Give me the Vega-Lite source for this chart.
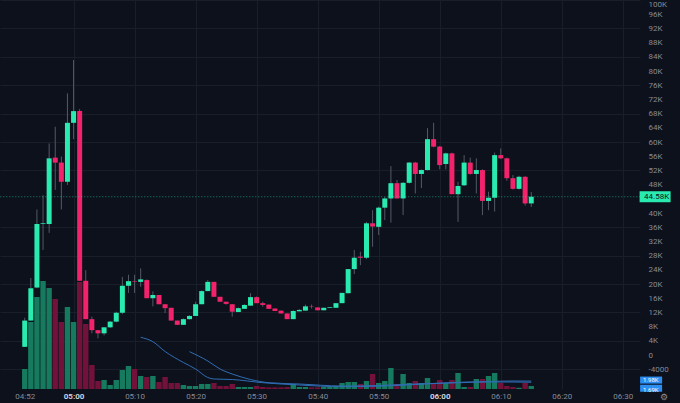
{
  "$schema": "https://vega.github.io/schema/vega-lite/v6.json",
  "width": 640,
  "height": 389,
  "autosize": {"type": "none"},
  "padding": {"left": 0, "top": 0, "right": 40, "bottom": 14},
  "background": "#0d111c",
  "config": {"view": {"stroke": null}, "font": "Roboto", "axisY": {"labelOverlap": false}},
  "data": {
    "format": {"parse": {"t": "date:'%H:%M'"}},
    "values": [
      {"t": "04:52", "o": 2300, "h": 10500, "l": 2300, "c": 9700, "v": 5000},
      {"t": "04:53", "o": 9700, "h": 21700, "l": 9700, "c": 18800, "v": 16750},
      {"t": "04:54", "o": 19000, "h": 41000, "l": 18800, "c": 36900, "v": 23000},
      {"t": "04:55", "o": 36900, "h": 45000, "l": 29600, "c": 37100, "v": 27000},
      {"t": "04:56", "o": 36900, "h": 59600, "l": 34400, "c": 55400, "v": 25250},
      {"t": "04:57", "o": 55600, "h": 64300, "l": 46500, "c": 54200, "v": 22500},
      {"t": "04:58", "o": 54200, "h": 55900, "l": 41000, "c": 48800, "v": 16750},
      {"t": "04:59", "o": 48800, "h": 73700, "l": 47900, "c": 65400, "v": 20500},
      {"t": "05:00", "o": 65400, "h": 83100, "l": 60800, "c": 68700, "v": 16750},
      {"t": "05:01", "o": 68700, "h": 69300, "l": 20900, "c": 20900, "v": 26750},
      {"t": "05:02", "o": 20900, "h": 23900, "l": 10100, "c": 10100, "v": 16250},
      {"t": "05:03", "o": 10100, "h": 10800, "l": 6100, "c": 7000, "v": 6000},
      {"t": "05:04", "o": 7000, "h": 7000, "l": 4700, "c": 6100, "v": 2000},
      {"t": "05:05", "o": 6100, "h": 7800, "l": 5500, "c": 7800, "v": 2250},
      {"t": "05:06", "o": 7800, "h": 9600, "l": 7600, "c": 9400, "v": 1000},
      {"t": "05:07", "o": 9400, "h": 12200, "l": 9200, "c": 11900, "v": 2250},
      {"t": "05:08", "o": 11900, "h": 22000, "l": 11500, "c": 19500, "v": 4750},
      {"t": "05:09", "o": 19500, "h": 22600, "l": 17500, "c": 20800, "v": 5750},
      {"t": "05:10", "o": 20850, "h": 22600, "l": 17500, "c": 20700, "v": 5000},
      {"t": "05:11", "o": 20600, "h": 24400, "l": 19200, "c": 21300, "v": 3250},
      {"t": "05:12", "o": 21100, "h": 21300, "l": 16000, "c": 16000, "v": 3000},
      {"t": "05:13", "o": 16000, "h": 17900, "l": 13700, "c": 16900, "v": 3250},
      {"t": "05:14", "o": 16900, "h": 16900, "l": 14300, "c": 14300, "v": 1750},
      {"t": "05:15", "o": 14300, "h": 14300, "l": 11800, "c": 13200, "v": 3000},
      {"t": "05:16", "o": 13300, "h": 13300, "l": 9700, "c": 9700, "v": 1500},
      {"t": "05:17", "o": 9700, "h": 9700, "l": 8500, "c": 8500, "v": 1500},
      {"t": "05:18", "o": 8500, "h": 10300, "l": 8500, "c": 10100, "v": 1000},
      {"t": "05:19", "o": 10100, "h": 11200, "l": 10000, "c": 11000, "v": 750},
      {"t": "05:20", "o": 11000, "h": 15000, "l": 11000, "c": 14300, "v": 750},
      {"t": "05:21", "o": 14300, "h": 18200, "l": 14300, "c": 18000, "v": 1250},
      {"t": "05:22", "o": 18000, "h": 21100, "l": 18000, "c": 20600, "v": 1250},
      {"t": "05:23", "o": 20600, "h": 20600, "l": 16400, "c": 16400, "v": 1500},
      {"t": "05:24", "o": 16400, "h": 16400, "l": 15000, "c": 15000, "v": 750},
      {"t": "05:25", "o": 15000, "h": 15000, "l": 14200, "c": 14400, "v": 750},
      {"t": "05:26", "o": 14300, "h": 14300, "l": 10800, "c": 12200, "v": 1250},
      {"t": "05:27", "o": 12100, "h": 13400, "l": 12100, "c": 13200, "v": 500},
      {"t": "05:28", "o": 13000, "h": 14300, "l": 13000, "c": 14100, "v": 500},
      {"t": "05:29", "o": 13900, "h": 17400, "l": 13900, "c": 16300, "v": 500},
      {"t": "05:30", "o": 16300, "h": 16500, "l": 14600, "c": 14600, "v": 750},
      {"t": "05:31", "o": 14600, "h": 15000, "l": 13600, "c": 14100, "v": 500},
      {"t": "05:32", "o": 14200, "h": 14200, "l": 13000, "c": 13000, "v": 400},
      {"t": "05:33", "o": 13100, "h": 13100, "l": 12400, "c": 12400, "v": 400},
      {"t": "05:34", "o": 12500, "h": 12500, "l": 11700, "c": 11700, "v": 400},
      {"t": "05:35", "o": 11700, "h": 11700, "l": 10100, "c": 10100, "v": 500},
      {"t": "05:36", "o": 10100, "h": 12600, "l": 10100, "c": 12400, "v": 1250},
      {"t": "05:37", "o": 12300, "h": 12900, "l": 12300, "c": 12700, "v": 500},
      {"t": "05:38", "o": 12500, "h": 14200, "l": 12500, "c": 13700, "v": 500},
      {"t": "05:39", "o": 13650, "h": 14200, "l": 13100, "c": 13550, "v": 400},
      {"t": "05:40", "o": 13400, "h": 13400, "l": 12600, "c": 12600, "v": 400},
      {"t": "05:41", "o": 12600, "h": 13300, "l": 12600, "c": 13300, "v": 500},
      {"t": "05:42", "o": 13300, "h": 13500, "l": 13300, "c": 13500, "v": 500},
      {"t": "05:43", "o": 13300, "h": 14600, "l": 13300, "c": 14600, "v": 750},
      {"t": "05:44", "o": 14600, "h": 17500, "l": 14600, "c": 17500, "v": 1500},
      {"t": "05:45", "o": 17400, "h": 24200, "l": 17400, "c": 24200, "v": 1750},
      {"t": "05:46", "o": 24200, "h": 29600, "l": 22800, "c": 27400, "v": 1750},
      {"t": "05:47", "o": 27700, "h": 29100, "l": 25300, "c": 27400, "v": 1250},
      {"t": "05:48", "o": 27400, "h": 37500, "l": 27000, "c": 37100, "v": 2000},
      {"t": "05:49", "o": 37100, "h": 40800, "l": 30500, "c": 36200, "v": 3750},
      {"t": "05:50", "o": 36100, "h": 41800, "l": 33800, "c": 41500, "v": 1500},
      {"t": "05:51", "o": 41500, "h": 44500, "l": 38000, "c": 44100, "v": 2000},
      {"t": "05:52", "o": 44100, "h": 53200, "l": 37300, "c": 48400, "v": 5250},
      {"t": "05:53", "o": 48400, "h": 49300, "l": 44100, "c": 44100, "v": 1250},
      {"t": "05:54", "o": 44100, "h": 48700, "l": 39400, "c": 48500, "v": 3750},
      {"t": "05:55", "o": 48500, "h": 54400, "l": 48300, "c": 54200, "v": 1500},
      {"t": "05:56", "o": 54200, "h": 54400, "l": 45500, "c": 51000, "v": 2000},
      {"t": "05:57", "o": 51000, "h": 52300, "l": 47000, "c": 52100, "v": 1500},
      {"t": "05:58", "o": 52100, "h": 63900, "l": 52000, "c": 60800, "v": 2750},
      {"t": "05:59", "o": 60800, "h": 65400, "l": 58500, "c": 58700, "v": 1500},
      {"t": "06:00", "o": 58700, "h": 58900, "l": 52300, "c": 53500, "v": 2250},
      {"t": "06:01", "o": 53800, "h": 57000, "l": 52300, "c": 56800, "v": 1500},
      {"t": "06:02", "o": 56800, "h": 57000, "l": 45300, "c": 45300, "v": 2250},
      {"t": "06:03", "o": 45300, "h": 48800, "l": 37500, "c": 47600, "v": 4000},
      {"t": "06:04", "o": 47800, "h": 56300, "l": 47600, "c": 54200, "v": 500},
      {"t": "06:05", "o": 54200, "h": 55600, "l": 50800, "c": 51000, "v": 500},
      {"t": "06:06", "o": 51000, "h": 55400, "l": 45500, "c": 52100, "v": 2500},
      {"t": "06:07", "o": 52100, "h": 52300, "l": 39400, "c": 43400, "v": 2500},
      {"t": "06:08", "o": 43400, "h": 46000, "l": 40800, "c": 44300, "v": 3250},
      {"t": "06:09", "o": 44300, "h": 57000, "l": 40400, "c": 56300, "v": 4000},
      {"t": "06:10", "o": 56300, "h": 58200, "l": 55200, "c": 55400, "v": 1500},
      {"t": "06:11", "o": 55400, "h": 55600, "l": 49100, "c": 49800, "v": 750},
      {"t": "06:12", "o": 49800, "h": 50700, "l": 46600, "c": 46800, "v": 500},
      {"t": "06:13", "o": 46800, "h": 50500, "l": 46600, "c": 50200, "v": 300},
      {"t": "06:14", "o": 50200, "h": 50400, "l": 42100, "c": 42700, "v": 1500},
      {"t": "06:15", "o": 42700, "h": 45900, "l": 41700, "c": 44580, "v": 750}
    ]
  },
  "encoding": {
    "x": {
      "field": "t",
      "type": "temporal",
      "title": null,
      "scale": {
        "nice": false,
        "domain": [
          {"year": 1900, "month": 1, "date": 1, "hours": 4, "minutes": 48, "seconds": 46},
          {"year": 1900, "month": 1, "date": 1, "hours": 6, "minutes": 32}
        ]
      },
      "axis": {
        "values": [
          {"year": 1900, "month": 1, "date": 1, "hours": 4, "minutes": 52},
          {"year": 1900, "month": 1, "date": 1, "hours": 5, "minutes": 0},
          {"year": 1900, "month": 1, "date": 1, "hours": 5, "minutes": 10},
          {"year": 1900, "month": 1, "date": 1, "hours": 5, "minutes": 20},
          {"year": 1900, "month": 1, "date": 1, "hours": 5, "minutes": 30},
          {"year": 1900, "month": 1, "date": 1, "hours": 5, "minutes": 40},
          {"year": 1900, "month": 1, "date": 1, "hours": 5, "minutes": 50},
          {"year": 1900, "month": 1, "date": 1, "hours": 6, "minutes": 0},
          {"year": 1900, "month": 1, "date": 1, "hours": 6, "minutes": 10},
          {"year": 1900, "month": 1, "date": 1, "hours": 6, "minutes": 20},
          {"year": 1900, "month": 1, "date": 1, "hours": 6, "minutes": 30}
        ],
        "tickCount": 30,
        "format": "%H:%M",
        "labelFontSize": 8,
        "labelPadding": 3,
        "labelColor": {"condition": {"test": "minutes(datum.value) === 0", "value": "#d1d4dc"}, "value": "#868a96"},
        "labelFontWeight": {"condition": {"test": "minutes(datum.value) === 0", "value": "bold"}, "value": "normal"},
        "labelOverlap": false,
        "labelFlush": false,
        "ticks": false,
        "domain": false,
        "grid": true,
        "gridColor": "#191e2b",
        "gridOpacity": {"condition": {"test": "minutes(datum.value) % 10 === 0", "value": 1}, "value": 0}
      }
    }
  },
  "layer": [
    {
      "layer": [
        {
          "mark": {"type": "bar", "size": 5.4},
          "encoding": {
            "y": {"field": "v", "type": "quantitative", "title": null, "axis": null, "scale": {"domain": [0, 97250], "nice": false, "zero": false}},
            "color": {"condition": {"test": "datum.c >= datum.o", "value": "#167a5f"}, "value": "#72123b"}
          }
        },
        {
          "data": {
            "format": {"parse": {"t": "date:'%H:%M'"}},
            "values": [
              {"t": "05:11", "s": "a", "v": 12925},
              {"t": "05:13", "s": "a", "v": 11825},
              {"t": "05:15", "s": "a", "v": 9375},
              {"t": "05:18", "s": "a", "v": 6625},
              {"t": "05:20", "s": "a", "v": 5000},
              {"t": "05:22", "s": "a", "v": 2875},
              {"t": "05:23", "s": "a", "v": 2500},
              {"t": "05:26", "s": "a", "v": 2375},
              {"t": "05:31", "s": "a", "v": 1575},
              {"t": "05:37", "s": "a", "v": 1000},
              {"t": "05:44", "s": "a", "v": 575},
              {"t": "05:50", "s": "a", "v": 700},
              {"t": "05:56", "s": "a", "v": 1125},
              {"t": "06:02", "s": "a", "v": 1625},
              {"t": "06:08", "s": "a", "v": 1875},
              {"t": "06:12", "s": "a", "v": 2000},
              {"t": "06:15", "s": "a", "v": 1980},
              {"t": "05:19", "s": "b", "v": 9325},
              {"t": "05:22", "s": "b", "v": 7000},
              {"t": "05:24", "s": "b", "v": 5000},
              {"t": "05:26", "s": "b", "v": 3750},
              {"t": "05:29", "s": "b", "v": 2375},
              {"t": "05:32", "s": "b", "v": 1575},
              {"t": "05:37", "s": "b", "v": 1250},
              {"t": "05:44", "s": "b", "v": 750},
              {"t": "05:50", "s": "b", "v": 875},
              {"t": "05:56", "s": "b", "v": 1250},
              {"t": "06:02", "s": "b", "v": 1500},
              {"t": "06:08", "s": "b", "v": 1750},
              {"t": "06:12", "s": "b", "v": 1750},
              {"t": "06:15", "s": "b", "v": 1690}
            ]
          },
          "mark": {"type": "line", "color": "#2f6db5", "strokeWidth": 1, "interpolate": "monotone"},
          "encoding": {
            "y": {"field": "v", "type": "quantitative", "title": null},
            "detail": {"field": "s"}
          }
        },
        {
          "data": {"format": {"parse": {"t": "date:'%H:%M'"}}, "values": [{"t": "06:33", "v": 1690, "label": "1.69K"}]},
          "layer": [
            {
              "mark": {"type": "point", "shape": "M-1,-0.32L1,-0.32L1,0.32L-1,0.32Z", "size": 484, "filled": true, "opacity": 1, "color": "#2b8ef0", "xOffset": 10, "yOffset": 6},
              "encoding": {"y": {"field": "v", "type": "quantitative", "title": null}}
            },
            {
              "mark": {"type": "text", "align": "left", "baseline": "middle", "dx": 2, "yOffset": 7.5, "fontSize": 6, "color": "#ffffff"},
              "encoding": {"y": {"field": "v", "type": "quantitative", "title": null}, "text": {"field": "label"}}
            }
          ]
        },
        {
          "data": {"format": {"parse": {"t": "date:'%H:%M'"}}, "values": [{"t": "06:33", "v": 1980, "label": "1.98K"}]},
          "layer": [
            {
              "mark": {"type": "point", "shape": "M-1,-0.32L1,-0.32L1,0.32L-1,0.32Z", "size": 484, "filled": true, "opacity": 1, "color": "#2b8ef0", "xOffset": 10, "yOffset": -1},
              "encoding": {"y": {"field": "v", "type": "quantitative", "title": null}}
            },
            {
              "mark": {"type": "text", "align": "left", "baseline": "middle", "dx": 2, "yOffset": -1.5, "fontSize": 6, "color": "#ffffff"},
              "encoding": {"y": {"field": "v", "type": "quantitative", "title": null}, "text": {"field": "label"}}
            }
          ]
        },
        {
          "data": {"format": {"parse": {"t": "date:'%H:%M'"}}, "values": [{"t": "06:36", "v": -2000, "label": "⚙"}]},
          "mark": {"type": "text", "align": "left", "baseline": "middle", "dx": 1, "fontSize": 9, "color": "#8a8e99"},
          "encoding": {"y": {"field": "v", "type": "quantitative", "title": null}, "text": {"field": "label"}}
        }
      ]
    },
    {
      "layer": [
        {
          "mark": {"type": "rule", "color": "#545968", "strokeWidth": 1},
          "encoding": {
            "y": {
              "field": "l",
              "type": "quantitative",
              "title": null,
              "scale": {"domain": [-9577, 100000], "nice": false, "zero": false},
              "axis": {
                "orient": "right",
                "values": [-4000, 0, 4000, 8000, 12000, 16000, 20000, 24000, 28000, 32000, 36000, 40000, 48000, 52000, 56000, 60000, 64000, 68000, 72000, 76000, 80000, 84000, 88000, 92000, 96000, 100000],
                "tickCount": 40,
                "labelExpr": "datum.value == 0 ? '0' : datum.value < 0 ? '-' + abs(datum.value) : (datum.value / 1000) + 'K'",
                "labelColor": "#868a96",
                "labelFontSize": 8,
                "labelPadding": 8,
                "labelAlign": "left",
                "labelBaseline": {"condition": {"test": "datum.value >= 100000", "value": "top"}, "value": "middle"},
                "labelBound": false,
                "labelFlush": false,
                "labelOverlap": false,
                "ticks": false,
                "domain": false,
                "grid": true,
                "gridColor": "#191e2b",
                "gridOpacity": {"condition": {"test": "(datum.value + 4000) % 8000 == 0", "value": 1}, "value": 0}
              }
            },
            "y2": {"field": "h"}
          }
        },
        {
          "mark": {"type": "bar", "size": 5},
          "encoding": {
            "y": {"field": "o", "type": "quantitative", "title": null},
            "y2": {"field": "c"},
            "color": {"condition": {"test": "datum.c >= datum.o", "value": "#29ebb0"}, "value": "#f2236b"}
          }
        },
        {
          "data": {"format": {"parse": {"t": "date:'%H:%M'", "t1": "date:'%H:%M'"}}, "values": [{"t": "04:48", "t1": "06:33", "p": 44580}]},
          "mark": {"type": "rule", "color": "#29ebb0", "strokeDash": [1, 2], "opacity": 0.55},
          "encoding": {
            "x2": {"field": "t1"},
            "y": {"field": "p", "type": "quantitative", "title": null}
          }
        },
        {
          "data": {"format": {"parse": {"t": "date:'%H:%M'"}}, "values": [{"t": "06:33", "p": 44580, "label": "44.58K"}]},
          "layer": [
            {
              "mark": {"type": "point", "shape": "M-1,-0.355L1,-0.355L1,0.355L-1,0.355Z", "size": 961, "filled": true, "opacity": 1, "color": "#29ebb0", "xOffset": 14},
              "encoding": {"y": {"field": "p", "type": "quantitative", "title": null}}
            },
            {
              "mark": {"type": "text", "align": "left", "baseline": "middle", "dx": 3, "fontSize": 8, "color": "#0d111c"},
              "encoding": {"y": {"field": "p", "type": "quantitative", "title": null}, "text": {"field": "label"}}
            }
          ]
        }
      ]
    }
  ],
  "resolve": {"scale": {"y": "independent"}}
}
